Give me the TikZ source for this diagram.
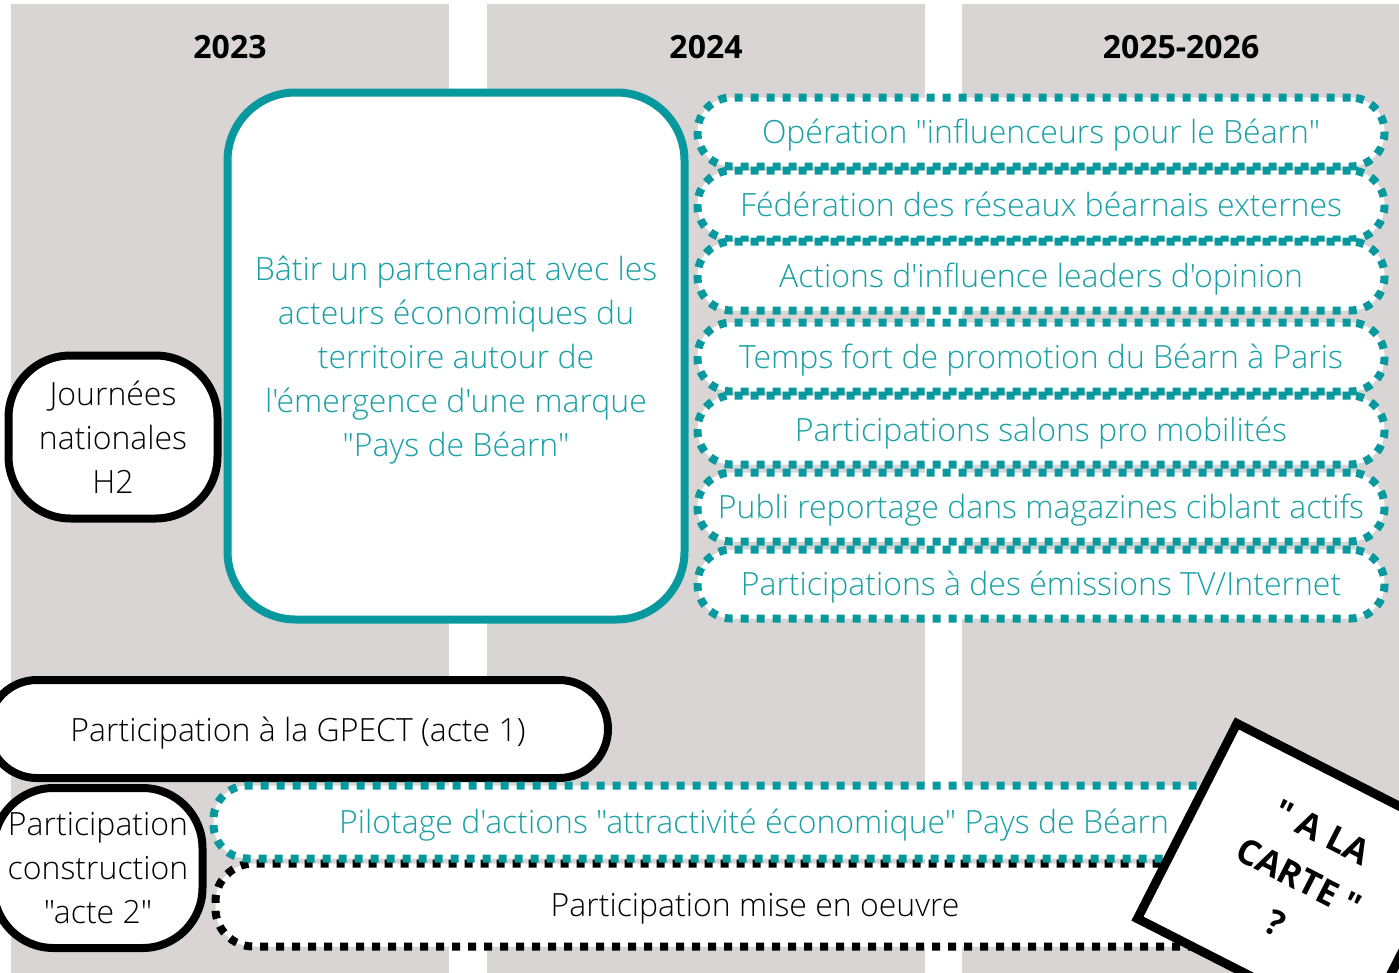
\documentclass[tikz,border=0pt]{standalone}
\usepackage{fontspec}
\setmainfont{Open Sans}[UprightFont=* Light,BoldFont=* Bold,Ligatures=TeXOff]
\definecolor{fond}{RGB}{217,213,212}
\definecolor{sarcelle}{RGB}{8,153,158}
\definecolor{sarcelletxt}{RGB}{24,160,165}
\begin{document}
\begin{tikzpicture}[x=1pt,y=-1pt,inner sep=0pt,outer sep=0pt,
annee/.style={font=\fontsize{32}{38}\selectfont\bfseries},
action/.style={draw=sarcelle,fill=white,line width=8pt,dash pattern=on 8pt off 8pt,rounded corners=34pt,minimum width=687pt,minimum height=69pt,text=sarcelletxt,text height=24pt,text depth=1pt,font=\fontsize{32}{44}\selectfont},
etape/.style={draw,fill=white,line width=8pt,align=center,font=\fontsize{32}{44}\selectfont}]
\useasboundingbox (0,0) rectangle (1399,972);
\clip (0,0) rectangle (1399,972);
% colonnes
\foreach \xa/\xb in {11/449,487/925,962/1410}
  \fill[fond] (\xa,4) rectangle (\xb,980);
\node[annee] (a2023) at (230,47) {2023};
\node[annee] (a2024) at (706,47) {2024};
\node[annee] (a2526) at (1181,47) {2025-2026};
% 2023-2024
\node[etape,rounded corners=62pt,minimum width=209pt,minimum height=163pt] (h2) at (113,437) {Journées\\nationales\\H2};
\node[etape,draw=sarcelle,text=sarcelletxt,rounded corners=68pt,minimum width=457pt,minimum height=527pt] (marque) at (456,356)
  {\rule{0pt}{32pt}Bâtir un partenariat avec les\\acteurs économiques du\\territoire autour de\\l'émergence d'une marque\\"Pays de Béarn"};
% 2024-2026
\node[action] (influ) at (1041,132) {Opération "influenceurs pour le Béarn"};
\node[action] (reseaux) at (1041,205) {Fédération des réseaux béarnais externes};
\node[action] (leaders) at (1041,276) {Actions d'influence leaders d'opinion};
\node[action] (paris) at (1041,357) {Temps fort de promotion du Béarn à Paris};
\node[action] (salons) at (1041,430) {Participations salons pro mobilités};
\node[action] (publi) at (1041,507) {Publi reportage dans magazines ciblant actifs};
\node[action] (emissions) at (1041,584) {Participations à des émissions TV/Internet};
% GPECT
\node[etape,rounded corners=49pt,minimum width=620pt,minimum height=98pt,text height=24pt,text depth=0pt] (gpect) at (298,729) {Participation à la GPECT (acte 1)};
\node[etape,rounded corners=60pt,minimum width=209pt,minimum height=160pt] (acte2) at (98,868) {Participation\\construction\\"acte 2"};
\node[action,draw=black,text=black,minimum width=1079pt,minimum height=83pt,rounded corners=38pt] (oeuvre) at (755,905) {Participation mise en oeuvre};
\node[action,minimum width=1081pt,minimum height=73pt] (pilotage) at (754,822) {Pilotage d'actions "attractivité économique" Pays de Béarn};
\node[draw,fill=white,line width=9pt,minimum width=251pt,minimum height=219pt,rotate=-27,align=center,font=\fontsize{35}{51}\selectfont\bfseries] (carte) at (1299,878) {" A LA\\CARTE "\\?};
\end{tikzpicture}
\end{document}
